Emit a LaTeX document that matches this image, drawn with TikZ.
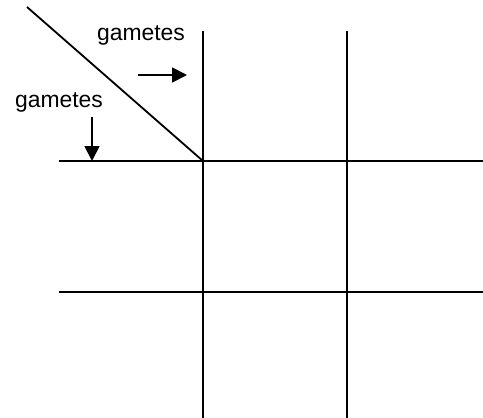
\documentclass[tikz,border=0pt]{standalone}
\usepackage{fontspec}
\setmainfont{Liberation Sans}
\usetikzlibrary{arrows.meta}

\begin{document}
\begin{tikzpicture}[
    x=1pt, y=-1pt,
    grid/.style={line width=1.8pt, black},
    lbl/.style={inner sep=0pt, anchor=base, font=\fontsize{22.9}{27}\selectfont},
    arr/.style={-{Triangle[length=15pt, width=15pt]}, line width=1.8pt}
]
\useasboundingbox (0,0) rectangle (483,418);

% Corners of the square
\coordinate (corner) at (203,161);
\coordinate (diagtop) at (27,7);

% Grid lines
\draw[grid] (203,31) -- (203,418);
\draw[grid] (347,31) -- (347,418);
\draw[grid] (59,161) -- (483,161);
\draw[grid] (59,292) -- (483,292);
\draw[grid] (diagtop) -- (corner);

% Labels
\node[lbl] (gamcol) at (141,40) {gametes};
\node[lbl] (gamrow) at (59,107) {gametes};

% Arrows
\coordinate (colfrom) at (138,75);
\coordinate (colto)   at (187,75);
\coordinate (rowfrom) at (92,117);
\coordinate (rowto)   at (92,161);
\draw[arr] (colfrom) -- (colto);
\draw[arr] (rowfrom) -- (rowto);
\end{tikzpicture}
\end{document}
